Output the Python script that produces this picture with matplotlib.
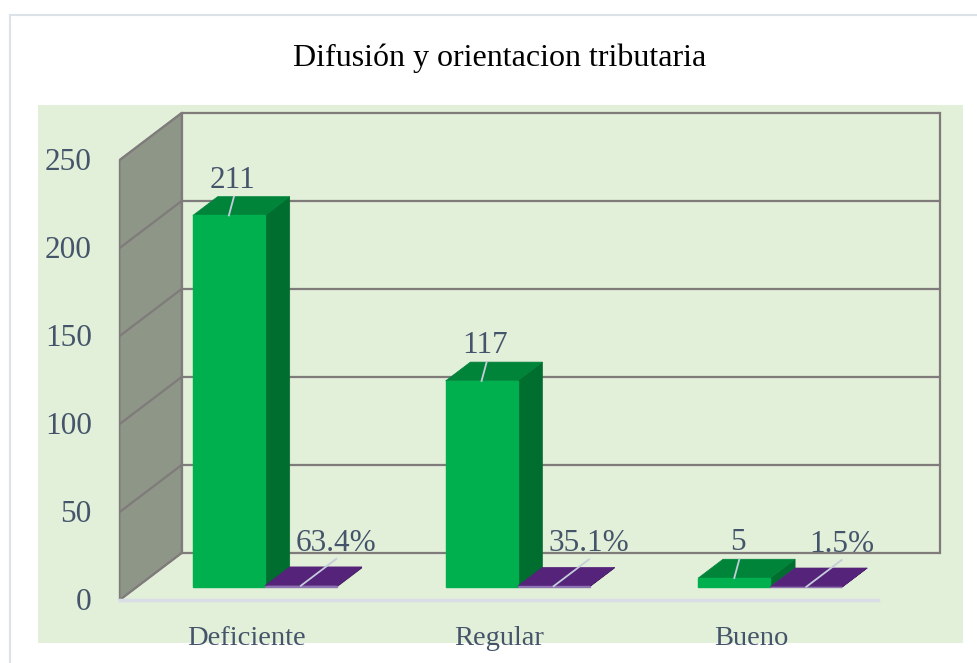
import matplotlib.pyplot as plt
from matplotlib.patches import Polygon, Rectangle

plt.rcParams['font.family'] = ['Liberation Serif', 'DejaVu Serif']

categorias = ["Deficiente", "Regular", "Bueno"]
frecuencia = [211, 117, 5]
porcentaje = [63.4, 35.1, 1.5]
etiquetas_pct = ["63.4%", "35.1%", "1.5%"]
ticks_y = [0, 50, 100, 150, 200, 250]
titulo = "Difusión y orientacion tributaria"

W, H = 977, 663
fig = plt.figure(figsize=(W / 100, H / 100), dpi=100)
ax = fig.add_axes([0, 0, 1, 1])
ax.set_xlim(-0.9735, 2.8927)
ax.set_ylim(-35.8, 340.9)
ax.axis('off')
ax.patch.set_visible(False)

# oblique projection for the fake 3d look (depth z from 0 = front to 1 = back wall)
DX = 62 / 252.7
DY = 47 / 1.76


def P(x, y, z):
    return (x + z * DX, y + z * DY)


# card + plot area background
ax.add_patch(Rectangle((10 / W, -0.1), 1.0, 1.1 - 15 / H, transform=ax.transAxes,
                       facecolor='white', edgecolor='#DDE2E8', lw=1.5, zorder=0, clip_on=False))
ax.add_patch(Rectangle((38 / W, 20 / H), 925 / W, 538 / H, transform=ax.transAxes,
                       facecolor='#E2EFD9', edgecolor='none', zorder=0.5))

ymax = ticks_y[-1]
x_left, x_right = -0.5, len(categorias) - 0.5
grid_col = '#7F7B7B'

# side wall
ax.add_patch(Polygon([P(x_left, 0, 0), P(x_left, ymax, 0), P(x_left, ymax, 1), P(x_left, 0, 1)],
                     closed=True, facecolor='#8E9688', edgecolor=grid_col, lw=1.2, zorder=1))

# gridlines on side wall and back wall
for v in ticks_y:
    pts = [P(x_left, v, 0), P(x_left, v, 1), P(x_right, v, 1)]
    ax.plot([p[0] for p in pts], [p[1] for p in pts], color=grid_col, lw=1.6, zorder=2,
            solid_capstyle='butt')
for xe in (x_left, x_right):
    a, b = P(xe, 0, 1), P(xe, ymax, 1)
    ax.plot([a[0], b[0]], [a[1], b[1]], color=grid_col, lw=1.6, zorder=2)

# floor front edge
a, b = P(x_left, 0, 0), P(x_right, 0, 0)
ax.plot([a[0], b[0]], [a[1], b[1]], color='#D9DDE6', lw=2.5, zorder=2)

z0, z1 = 0.28, 0.68
bw = 0.285
off = 0.006


def caja(x0, x1, h, c_front, c_top, c_side, edge):
    front = [P(x0, 0, z0), P(x1, 0, z0), P(x1, h, z0), P(x0, h, z0)]
    top = [P(x0, h, z0), P(x1, h, z0), P(x1, h, z1), P(x0, h, z1)]
    side = [P(x1, 0, z0), P(x1, 0, z1), P(x1, h, z1), P(x1, h, z0)]
    ax.add_patch(Polygon(side, closed=True, facecolor=c_side, edgecolor=c_side, lw=0.5, zorder=3))
    ax.add_patch(Polygon(top, closed=True, facecolor=c_top, edgecolor=c_top, lw=0.5, zorder=3))
    ax.add_patch(Polygon(front, closed=True, facecolor=c_front, edgecolor=edge, lw=1.0, zorder=3))


txt_col = '#44546A'
lead_col = '#C5CCDA'

for i, cat in enumerate(categorias):
    # frecuencia (green)
    gx0, gx1 = i - bw + off, i + off
    v = frecuencia[i]
    caja(gx0, gx1, v, '#00B04F', '#00843A', '#006E2E', '#00B04F')
    gc = (gx0 + gx1) / 2
    s = P(gc, v, z0)
    e = P(gc - (z1 - z0) * DX + 0.02, v, z1)
    ax.plot([s[0], e[0]], [s[1], e[1]], color=lead_col, lw=1.3, zorder=4)
    ax.annotate(str(v), xy=P(gc - (z1 - z0) * DX + 0.015, v, z1), xytext=(0, 9),
                textcoords='offset pixels', ha='center', va='baseline',
                fontsize=22.5, color=txt_col, zorder=5)

    # porcentaje (purple)
    px0, px1 = gx1, gx1 + bw
    h = porcentaje[i] / 100
    caja(px0, px1, h, '#7D5BA6', '#55237A', '#3E1A5A', '#8E73B3')
    pc = (px0 + px1) / 2
    s = P(pc, h, z0)
    e = P(pc, h, 0.85)
    ax.plot([s[0], e[0]], [s[1], e[1]], color=lead_col, lw=1.3, zorder=4)
    ax.annotate(etiquetas_pct[i], xy=e, xytext=(0, 8), textcoords='offset pixels',
                ha='center', va='baseline', fontsize=22.5, color=txt_col, zorder=5)

    # category label
    ax.annotate(cat, xy=P(i, 0, 0), xytext=(0, -45), textcoords='offset pixels',
                ha='center', va='baseline', fontsize=20.5, color=txt_col)

# value axis labels
for v in ticks_y:
    ax.annotate(str(v), xy=P(x_left, v, 0), xytext=(-28, -10.5), textcoords='offset pixels',
                ha='right', va='baseline', fontsize=22.5, color=txt_col)

fig.text(500 / W, 1 - 66 / H, titulo, ha='center', va='baseline', fontsize=23, color='black')

fig.savefig('out.png', dpi=100)
